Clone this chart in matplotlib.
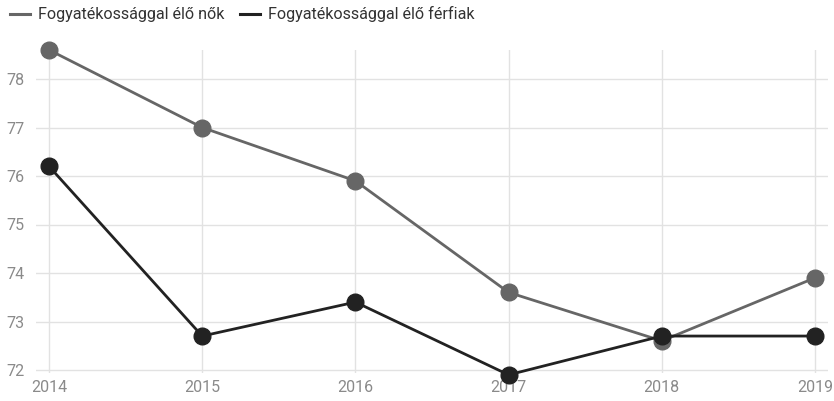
import matplotlib
matplotlib.use("Agg")
import matplotlib.pyplot as plt
from matplotlib.lines import Line2D

plt.rcParams['font.family'] = ['Roboto', 'DejaVu Sans']

years = [2014, 2015, 2016, 2017, 2018, 2019]
women = [78.6, 77.0, 75.9, 73.6, 72.6, 73.9]
men = [76.2, 72.7, 73.4, 71.9, 72.7, 72.7]
series_labels = ["Fogyatékossággal élő nők", "Fogyatékossággal élő férfiak"]
yticks = [72, 73, 74, 75, 76, 77, 78]

c_women = "#666666"
c_men = "#222222"

fig = plt.figure(figsize=(8.34, 4.01), dpi=100)
ax = fig.add_axes([36/834, 28/401, 792/834, 323/401])

ax.plot(years, women, color=c_women, lw=2.0, marker='o', ms=12,
        clip_on=False, zorder=3)
ax.plot(years, men, color=c_men, lw=2.0, marker='o', ms=12,
        clip_on=False, zorder=4)

ax.set_xlim(2014 - 13/153.2, 2019 + 13/153.2)
ax.set_ylim(72 - 3/48.5, 78 + 29/48.5)
ax.set_xticks(years)
ax.set_xticklabels([str(y) for y in years])
ax.set_yticks(yticks)
ax.grid(True, color="#e2e2e2", lw=1.0, zorder=0)
ax.set_axisbelow(True)
for s in ax.spines.values():
    s.set_visible(False)
ax.tick_params(axis='both', length=0, labelsize=11.5, labelcolor="#8a8a8a")
ax.tick_params(axis='y', pad=8)
ax.tick_params(axis='x', pad=5)

handles = [Line2D([], [], color=c_women, lw=2.2),
           Line2D([], [], color=c_men, lw=2.2)]
fig.legend(handles, series_labels, loc='upper left', bbox_to_anchor=(0.0, 1.01),
           ncol=2, frameon=False, handlelength=1.2, handletextpad=0.5,
           columnspacing=1.0, fontsize=11.6, borderaxespad=0.25,
           labelcolor="#333333")

fig.savefig("out.png", dpi=100)
